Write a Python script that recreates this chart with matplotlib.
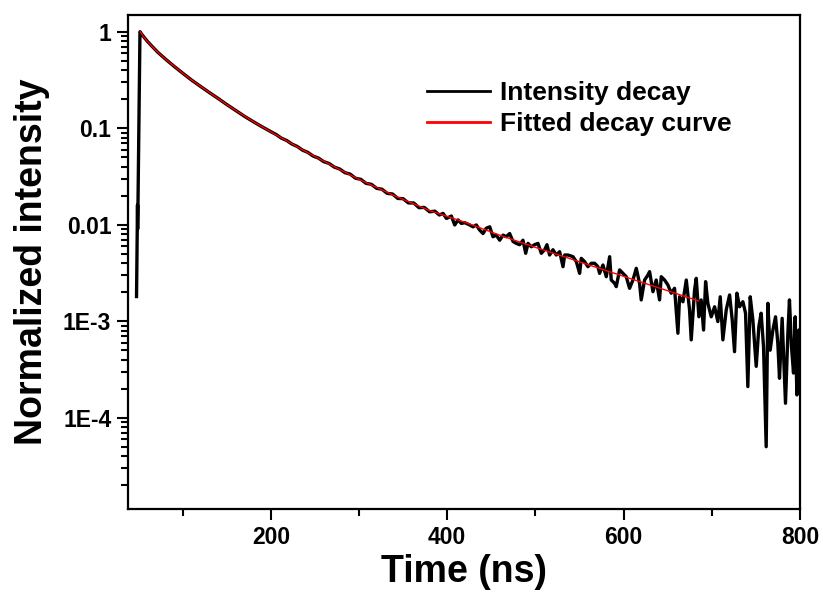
import numpy as np
import matplotlib
matplotlib.use('Agg')
import matplotlib.pyplot as plt
from matplotlib.ticker import FixedLocator, LogLocator, NullFormatter, MultipleLocator

plt.rcParams['font.family'] = ['Liberation Sans', 'DejaVu Sans']
plt.rcParams['font.weight'] = 'bold'

# measured decay (ns, normalized counts)
time_data = [
    47.7, 48.8, 49.0, 49.2, 51.6, 54, 57, 60, 65, 72, 80, 90, 100, 110, 120,
    130, 140, 150, 160, 170, 180, 190, 200,
    206, 212, 218, 224, 230, 236, 242, 248, 254, 260, 266, 272, 278, 284, 290,
    296, 302, 308, 314, 320, 326, 332, 338, 344, 350, 356, 362, 368, 374, 380,
    386, 391,
    395.3, 399.1, 404.7, 408.5, 412.3, 416.1, 419.8, 425.5, 429.3, 433.0,
    436.8, 440.6, 444.4, 448.2, 451.9, 455.7, 459.5, 463.3, 467.0, 470.8,
    474.6, 478.4, 482.1, 485.9, 489.0, 491.6, 495.4, 499.1, 502.9, 506.7,
    510.5, 513.1, 516.1, 519.9, 523.7,
    527.5, 531.3, 533.2, 536.9, 542.6, 546.4, 550.2, 552.0, 555.8, 559.6,
    563.4, 567.2, 570.9, 572.8, 576.6, 580.4, 584.2, 586.0, 589.8, 591.7,
    595.5, 599.3, 603.0, 606.8, 610.6, 614.4, 618.1, 620.0, 623.8, 627.6,
    629.5, 633.3, 637.0, 640.8, 642.7, 646.5, 650.3, 654.0, 657.8, 661.6,
    663.5, 667.3, 671.1, 674.8, 676.7, 680.5, 682.4, 685.4, 688.0, 690.7,
    693.0, 695.6, 699.4, 703.2, 706.9, 709.6, 712.6, 716.4, 720.2, 723.2,
    725.8, 728.5, 731.5, 735.3, 738.3, 740.9, 743.6, 746.6, 750.4, 753.4,
    756.0, 758.7, 761.7, 763.6, 766.2, 769.3, 772.3, 774.9, 776.8, 779.8,
    783.6, 786.3, 788.1, 790.4, 792.7, 794.6, 796.5, 798.7, 800.0,
]
intensity_data = [
    0.0018, 0.016, 0.009, 0.0125, 1.0, 0.93, 0.86, 0.795, 0.71, 0.61, 0.525,
    0.44, 0.372, 0.316, 0.272, 0.235, 0.204, 0.176, 0.153, 0.133, 0.117,
    0.1035, 0.092,
    0.0860, 0.0788, 0.0745, 0.0684, 0.0646, 0.0592, 0.0561, 0.0514, 0.0490,
    0.0450, 0.0431, 0.0395, 0.0378, 0.0346, 0.0334, 0.0303, 0.0295, 0.0268,
    0.0262, 0.0238, 0.0233, 0.0211, 0.0208, 0.0187, 0.0186, 0.0168, 0.0168,
    0.0150, 0.0151, 0.0136, 0.0138, 0.0126,
    0.0131, 0.0116, 0.0123, 0.00993, 0.0112, 0.0103, 0.0105, 0.00993, 0.0095,
    0.00993, 0.0088, 0.0081, 0.0092, 0.0095, 0.0075, 0.0078, 0.0069, 0.0078,
    0.0075, 0.0081, 0.0067, 0.0064, 0.0062, 0.0069, 0.00505, 0.0064, 0.0059,
    0.0062, 0.0064, 0.00505, 0.0055, 0.0062, 0.00485, 0.0055, 0.00485,
    5.25e-3, 3.67e-3, 4.85e-3, 4.85e-3, 4.66e-3, 4.14e-3, 3.13e-3, 4.48e-3,
    4.14e-3, 3.67e-3, 3.98e-3, 3.98e-3, 3.67e-3, 3.13e-3, 3.82e-3, 2.89e-3,
    4.66e-3, 2.67e-3, 2.47e-3, 2.28e-3, 3.40e-3, 3.13e-3, 2.89e-3, 2.19e-3,
    2.67e-3, 3.53e-3, 2.47e-3, 1.66e-3, 2.67e-3, 3.01e-3, 3.26e-3, 2.02e-3,
    2.67e-3, 1.66e-3, 2.89e-3, 2.67e-3, 2.37e-3, 1.95e-3, 2.19e-3, 7.5e-4,
    1.79e-3, 1.59e-3, 2.67e-3, 1.31e-3, 6.4e-4, 2.11e-3, 2.78e-3, 1.11e-3,
    1.66e-3, 8.1e-4, 2.57e-3, 1.53e-3, 1.11e-3, 1.41e-3, 9.9e-4, 1.79e-3,
    6.4e-4, 1.31e-3, 1.87e-3, 1.03e-3, 4.83e-4, 1.95e-3, 1.41e-3, 1.59e-3,
    1.21e-3, 2.1e-4, 1.79e-3, 1.03e-3, 3.4e-4, 8.8e-4, 1.21e-3, 5.4e-4,
    5.0e-5, 1.53e-3, 5.0e-4, 8.1e-4, 1.11e-3, 5.9e-4, 2.56e-4, 1.07e-3,
    1.41e-4, 7.5e-4, 1.66e-3, 5.4e-4, 2.9e-4, 1.11e-3, 1.72e-4, 8.1e-4,
    2.1e-4,
]

# fitted curve
time_fit = [52, 55, 60, 65, 72, 80, 90, 100, 110, 120, 135, 150, 165, 180,
            210, 240, 270, 300, 340, 380, 420, 460, 500, 540, 580, 620, 660, 685]
intensity_fit = [1.0, 0.902, 0.794, 0.708, 0.610, 0.525, 0.442, 0.372, 0.316,
                 0.272, 0.219, 0.176, 0.143, 0.117, 0.0813, 0.0569, 0.0407,
                 0.0295, 0.0200, 0.0140, 0.0106, 0.00776, 0.00582, 0.00442,
                 0.00335, 0.00254, 0.00193, 0.00162]

y_ticks = [1, 0.1, 0.01, 1e-3, 1e-4]
y_ticklabels = ['1', '0.1', '0.01', '1E-3', '1E-4']
x_ticks = [200, 400, 600, 800]

fig = plt.figure(figsize=(8.23, 5.95), dpi=100)
ax = fig.add_axes([0.1555, 0.1445, 0.8165, 0.8303])

ax.plot(time_data, intensity_data, color='black', lw=2.4, label='Intensity decay')
ax.plot(time_fit, intensity_fit, color='#ff0000', lw=1.0, label='Fitted decay curve')

ax.set_yscale('log')
ax.set_xlim(38, 800)
ax.set_ylim(1.13e-5, 1.49)

ax.xaxis.set_major_locator(FixedLocator(x_ticks))
ax.xaxis.set_minor_locator(MultipleLocator(100))
ax.yaxis.set_major_locator(FixedLocator(y_ticks))
ax.set_yticklabels(y_ticklabels)
ax.yaxis.set_minor_locator(LogLocator(base=10, subs=np.arange(2, 10)))
ax.yaxis.set_minor_formatter(NullFormatter())

ax.tick_params(which='major', direction='out', length=8, width=1.5, labelsize=16.5, pad=4)
ax.tick_params(which='minor', direction='out', length=5, width=1.5)
ax.tick_params(top=False, right=False, which='both')
for lab in ax.get_xticklabels() + ax.get_yticklabels():
    lab.set_fontweight('bold')
for sp in ax.spines.values():
    sp.set_linewidth(1.6)

ax.set_xlabel('Time (ns)', fontsize=27, fontweight='bold', labelpad=4)
ax.set_ylabel('Normalized intensity', fontsize=27, fontweight='bold', labelpad=9)

leg = ax.legend(loc='upper left', bbox_to_anchor=(0.445, 0.866), frameon=False,
                fontsize=19, handlelength=2.4, handletextpad=0.35,
                borderpad=0, borderaxespad=0, labelspacing=0.25)
for line in leg.get_lines():
    line.set_linewidth(2.0)

fig.savefig('out.png', dpi=100)
